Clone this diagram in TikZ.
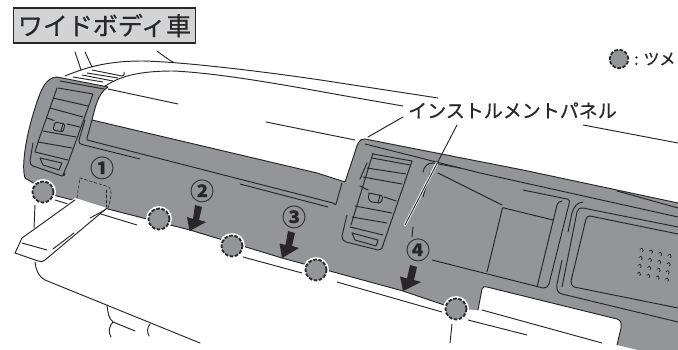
\documentclass[tikz,border=0pt]{standalone}
\usepackage{fontspec}
\newfontfamily\cjk{Noto Sans CJK JP}
\newfontfamily\cjkm[FakeBold=0.6]{Noto Sans CJK JP}
\definecolor{panel}{RGB}{147,149,152}
\definecolor{ink}{RGB}{40,38,39}
\definecolor{lab}{RGB}{209,211,212}
\tikzset{
  px/.style={x=1pt,y=-1pt},
  ln/.style={draw=ink,line width=0.95pt,line cap=round,line join=round},
  hl/.style={draw=white,line width=2.6pt,line cap=round},
  clipmark/.style={circle,minimum size=26pt,inner sep=0pt,fill=white,draw=none},
  clipring/.style={circle,minimum size=21pt,inner sep=0pt,fill=panel,draw=ink,line width=1.8pt,dash pattern=on 3.6pt off 1.6pt},
  numlab/.style={inner sep=0pt,font=\cjk\bfseries\fontsize{24}{24}\selectfont,text=ink},
  bigarrow/.style={fill=ink,draw=none}
}
\begin{document}
\begin{tikzpicture}[px]
\useasboundingbox (0,0) rectangle (678,350);
% ---- upper dash lines
\draw[ln] (75,52)--(81,70) (85,52)--(92,67) (157,51)..controls (165,57) and (169,60)..(173,62);
\draw[ln] (65,76)..controls (85,68) and (105,61)..(143,61)..controls (190,62) and (290,75)..(340,83)--(438,98);
\draw[ln] (102,88)..controls (112,82) and (125,71)..(173,71)..controls (220,73) and (290,86)..(340,95)--(403,106);
\draw[ln] (92,70)--(122,76)..controls (124,76) and (125,74)..(124,72);
\draw[ln] (73,77)--(103,82) (82,75)--(113,81) (87,73)--(118,78);
\draw[ln] (108,89)--(178,104) (266,122)--(355,140) (583,125)--(678,143);
% ---- lines under the panel
\draw[ln] (55,200)--(137,225) (243,257)--(302,273) (337,282)--(442,312) (468,320)--(527,335) (482,310)--(602,343);
\draw[ln] (35,205)--(34,228);
\draw[ln] (35,262)..controls (36,270) and (38,276)..(45,280)--(200,343);
\draw[ln] (107,305)..controls (108,312) and (108,318)..(113,322)--(135,331);
\draw[ln] (113,322)..controls (109,326) and (108,332)..(111,337);
\draw[ln] (150,324)..controls (147,328) and (147,332)..(149,336);
\draw[ln] (452,324)--(450,343);
% ---- panel
\fill[panel] (57,77)--(108,87)..controls (98,93) and (95,108)..(92,120)--(317,173)--(345,182)--(355,152)..controls (357,145) and (359,138)..(365,139)--(523,170)--(678,203)--(678,350)--(638,350)--(617,345)--(621,328)..controls (622,322) and (620,320)..(617,319)--(487,287)..controls (484,286) and (483,287)..(482,289)--(478,310)--(456,309)--(403,291)--(282,258)--(190,230)--(53,195)--(25,178)..controls (21,165) and (27,135)..(32,118)..controls (38,98) and (42,85)..(49,80)..controls (51,78) and (54,77)..(57,77)--cycle;
\draw[ln] (57,77)--(108,87)..controls (98,93) and (95,108)..(92,120)--(317,173)--(345,182)--(355,152)..controls (357,145) and (359,138)..(365,139)--(523,170)--(678,203);
\draw[ln] (617,345)--(621,328)..controls (622,322) and (620,320)..(617,319)--(487,287)..controls (484,286) and (483,287)..(482,289)--(478,310);
\draw[ln] (456,309)--(403,291)--(282,258)--(190,230)--(53,195)--(25,178)..controls (21,165) and (27,135)..(32,118)..controls (38,98) and (42,85)..(49,80)..controls (51,78) and (54,77)..(57,77);
% ---- left vent
\draw[ln] (60,81)--(104,89);
\draw[ln] (58,88)--(93,94)--(68,163)--(63,175);
\draw[ln] (57,88)--(38,142)--(35,152);
\draw[ln] (53,98)--(88,106) (50,108)--(83,117) (47,118)--(54,120.5) (67,124)--(80,127);
\draw[ln] (43,131)--(76,137) (38,142)--(72,148) (35,152)--(68,160);
\draw[ln] (40,158)--(62,163)--(59,170)--(43,165)--cycle;
\draw[ln] (33,143)--(30,161)..controls (30,164) and (31,165)..(33,166)--(62,176)..controls (64,176) and (65,175)..(65,173);
\draw[ln,rounded corners=1.5pt] (55,122)--(65,124)--(63,132)--(53,130)--cycle;
\draw[ln] (63,124)--(61,131);
% ---- recess on the left
\draw[ln] (85,120)--(79,140)..controls (78.5,143) and (80,144)..(82,144.5)--(140,159);
\draw[ln] (92,120)--(87,138)..controls (86.5,140) and (87,140)..(89,140.5)--(333,203)..controls (335,204) and (335,206)..(336,204)--(342,183);
\draw[ln] (240,184)--(328,207);
% ---- right vent
\draw[ln] (373,154)--(412,161)--(411,164)--(382,248);
\draw[ln] (373,153)--(351,225);
\draw[ln] (372,158)--(410,165) (367,168)--(406,174) (363,177)--(402,184);
\draw[ln] (360,186)--(368,190) (384,197)--(396,201);
\draw[ln] (355,206)--(392,213) (352,217)--(387,223) (350,227)--(383,235);
\draw[ln] (352,233)--(378,240)--(376,246)--(355,240)--cycle;
\draw[ln] (347,215)--(342,236)..controls (342,239) and (343,241)..(346,242)--(378,250)..controls (380,250) and (381,249)..(382,248);
\draw[ln] (367,163)--(360,179);
\draw[ln,rounded corners=1.5pt] (369,193)--(383,196)--(381,203)--(372,202)..controls (369,201) and (368,199)..(369,193);
\draw[ln] (380,195)--(378,203);
% ---- centre and right details
\draw[ln] (365,144)--(480,173)--(678,217);
\draw[ln] (433,163)--(460,168);
\draw[ln] (423,172)..controls (424,166) and (428,163)..(433,163);
\draw[ln] (430,173)--(423,197) (413,227)--(412,237);
\draw[ln] (438,173)--(502,205);
\draw[ln] (523,190)--(567,199)..controls (570,200) and (570,202)..(569,204)--(549,284)..controls (548,287) and (546,288)..(543,288)--(432,260);
\draw[ln] (562,201)..controls (559,201) and (558,203)..(557,205)--(537,287);
\draw[ln] (504,208)--(553,220);
\draw[ln] (504,208)..controls (502,207) and (503,208)..(502,210)--(487,272);
\draw[ln] (583,202)..controls (576,203) and (574,207)..(572,213)--(568,232);
\draw[ln] (562,260)--(557,284)..controls (556,290) and (558,293)..(562,294)--(678,322);
\draw[ln] (678,227)--(583,208)..controls (579,208) and (578,209)..(577,212)--(562,287);
\draw[ln] (678,234)--(590,216)..controls (588,216) and (587,217)..(586,219)--(571,281)..controls (571,284) and (572,286)..(574,287)--(678,308);
\draw[ln] (617,191)--(678,208);
\foreach \X/\Y in {641.7/250,651/251.7,660.3/254,669.7/256,
  640.7/258,650/260,659.3/262,668.7/264.3,
  639.7/266,649.3/268,658.7/270,667.7/272.3,
  639/274,648.3/276,657.7/277.7,667/279.7}
  \draw[ln,line width=0.7pt] (\X-1.7,\Y-0.6)..controls (\X-1,\Y-2.4) and (\X+2,\Y-2.2)..(\X+1.6,\Y+0.4)..controls (\X+1.5,\Y+1.2) and (\X+1,\Y+1.6)..(\X+0.6,\Y+1.7);
% ---- pull-out tray
\fill[white] (75,198)--(18,240)--(15,253)--(40,262)..controls (43,262) and (44,261)..(46,259)--(107,208)--cycle;
\draw[ln] (75,200)--(22,238)--(15,253)--(38,261)..controls (41,262) and (43,262)..(45,260)--(107,208);
\draw[ln] (22,243)--(47,250) (53,249)--(74,233) (90,218)--(105,210);
\draw[ln,densely dashed,line width=0.6pt] (77,198)--(80,178)--(109,187)..controls (112,190) and (112,196)..(108,208);
\draw[ln,densely dashed,line width=0.6pt] (106,190)--(106,207);
% ---- clips
\node[clipmark] (c1w) at (43,192) {};
\node[clipring] (c1) at (43,192) {};
\node[clipmark] (c2w) at (159,219) {};
\node[clipring] (c2) at (159,219) {};
\node[clipmark] (c3w) at (232,246) {};
\node[clipring] (c3) at (232,246) {};
\node[clipmark] (c4w) at (316,270) {};
\node[clipring] (c4) at (316,270) {};
\node[clipmark] (c5w) at (456,309) {};
\node[clipring] (c5) at (456,309) {};
% ---- arrows
\fill[bigarrow] (195,205)--(202,207)--(199,220)--(206,222)--(189.5,231)--(187,217)--(193,219)--cycle;
\fill[bigarrow] (288,231)--(295,233)--(292,246)--(299,248)--(282,258)--(279.5,243.5)--(285.5,245)--cycle;
\fill[bigarrow] (410,265)--(417,267)--(414,280)--(421,282)--(403,291)--(400,276.5)--(407,278.5)--cycle;
% ---- number labels
\node[numlab] (n1) at (102,168) {①};
\node[numlab] (n2) at (202,191) {②};
\node[numlab] (n3) at (294,217) {③};
\node[numlab] (n4) at (418,250) {④};
% ---- text
\node[draw=ink,line width=1.4pt,fill=lab,minimum width=182pt,minimum height=35pt,inner sep=0pt,text=ink,font=\cjkm\fontsize{25}{25}\selectfont] (title) at (104.5,25.5) {ワイドボディ車};
\node[anchor=center,inner sep=0pt,text=ink,font=\cjkm\fontsize{19}{19}\selectfont] (ipanel) at (512.5,110.5) {インストルメントパネル};
\coordinate (l1a) at (403,117);
\coordinate (l1b) at (368,137);
\coordinate (l2a) at (457,125);
\coordinate (l2m) at (437,163);
\coordinate (l2b) at (405,225);
\draw[ln] (l1a)--(l1b);
\draw[hl] (l2m)--(l2b);
\draw[ln] (l2a)--(l2b);
\node[circle,minimum size=18.5pt,inner sep=0pt,fill=panel,draw=ink,line width=1.8pt,dash pattern=on 3.6pt off 1.6pt] (legend) at (619,59) {};
\node[anchor=west,inner sep=0pt,text=ink,font=\cjkm\fontsize{16}{16}\selectfont] (legendtext) at (634,59) {: ツメ};
\end{tikzpicture}
\end{document}
